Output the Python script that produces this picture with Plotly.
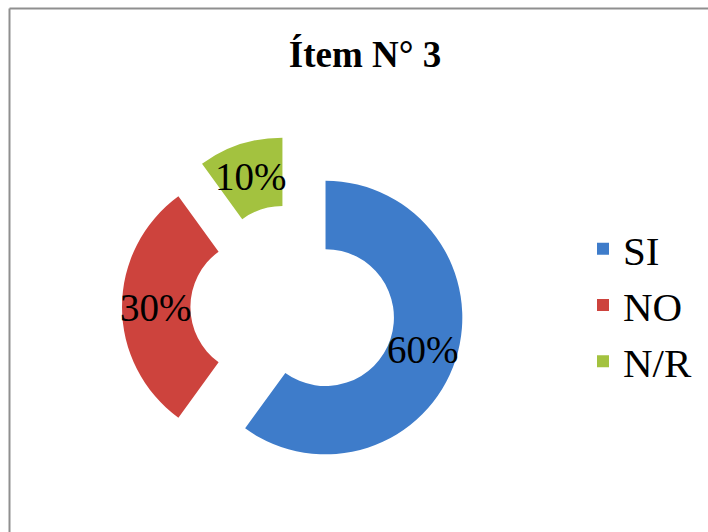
import math
import plotly.graph_objects as go

# Survey answers for item 3
categories = ["SI", "NO", "N/R"]
percentages = [60, 30, 10]
colors = ["#3E7CCA", "#CD433D", "#A3C23F"]

W, H = 708, 532
SERIF = "Liberation Serif, Times New Roman, serif"

HOLE = 0.5
PULL = 0.25
DOMAIN_X = [122 / W, 464 / W]
DOMAIN_Y = [1 - 478 / H, 1 - 136 / H]

fig = go.Figure(
    go.Pie(
        labels=categories,
        values=percentages,
        sort=False,
        direction="clockwise",
        rotation=0,
        hole=HOLE,
        pull=[PULL] * len(categories),
        marker=dict(colors=colors, line=dict(width=0)),
        textinfo="none",
        hoverinfo="label+percent",
        domain=dict(x=DOMAIN_X, y=DOMAIN_Y),
    )
)

# Percentage labels, placed mid-ring on each pulled slice's bisector
cx = (DOMAIN_X[0] + DOMAIN_X[1]) / 2 * W
cy = (1 - (DOMAIN_Y[0] + DOMAIN_Y[1]) / 2) * H
r_out = min((DOMAIN_X[1] - DOMAIN_X[0]) * W, (DOMAIN_Y[1] - DOMAIN_Y[0]) * H) / 2 / (1 + PULL)
total = sum(percentages)
start = 0.0
for name, val in zip(categories, percentages):
    mid = math.radians((start + val / 2) / total * 360)
    start += val
    rad = r_out * PULL + r_out * (1 + HOLE) / 2
    px = cx + rad * math.sin(mid)
    py = cy - rad * math.cos(mid)
    fig.add_annotation(
        x=px / W, y=1 - py / H, xref="paper", yref="paper",
        text=f"{round(val / total * 100)}%", showarrow=False,
        xanchor="center", yanchor="middle",
        font=dict(family=SERIF, size=39, color="black"),
    )

# Chart frame (left and top edges)
frame = dict(color="#8f8f8f", width=2)
fig.add_shape(type="line", xref="paper", yref="paper",
              x0=9.5 / W, x1=9.5 / W, y0=-0.05, y1=1 - 8.5 / H, line=frame)
fig.add_shape(type="line", xref="paper", yref="paper",
              x0=9.5 / W, x1=1.05, y0=1 - 8.5 / H, y1=1 - 8.5 / H, line=frame)

fig.update_layout(
    width=W,
    height=H,
    margin=dict(l=0, r=0, t=0, b=0, autoexpand=False),
    paper_bgcolor="white",
    plot_bgcolor="white",
    font=dict(family=SERIF, color="black"),
    title=dict(
        text="<b>Ítem N° 3</b>",
        x=365 / W, xanchor="center",
        y=1 - 54 / H, yanchor="middle",
        font=dict(family=SERIF, size=37, color="black"),
    ),
    showlegend=True,
    legend=dict(
        x=583 / W, xanchor="left",
        y=1 - 305 / H, yanchor="middle",
        font=dict(family=SERIF, size=41, color="black"),
        bgcolor="rgba(0,0,0,0)",
        itemclick=False,
    ),
)

fig.write_html("out.html")
